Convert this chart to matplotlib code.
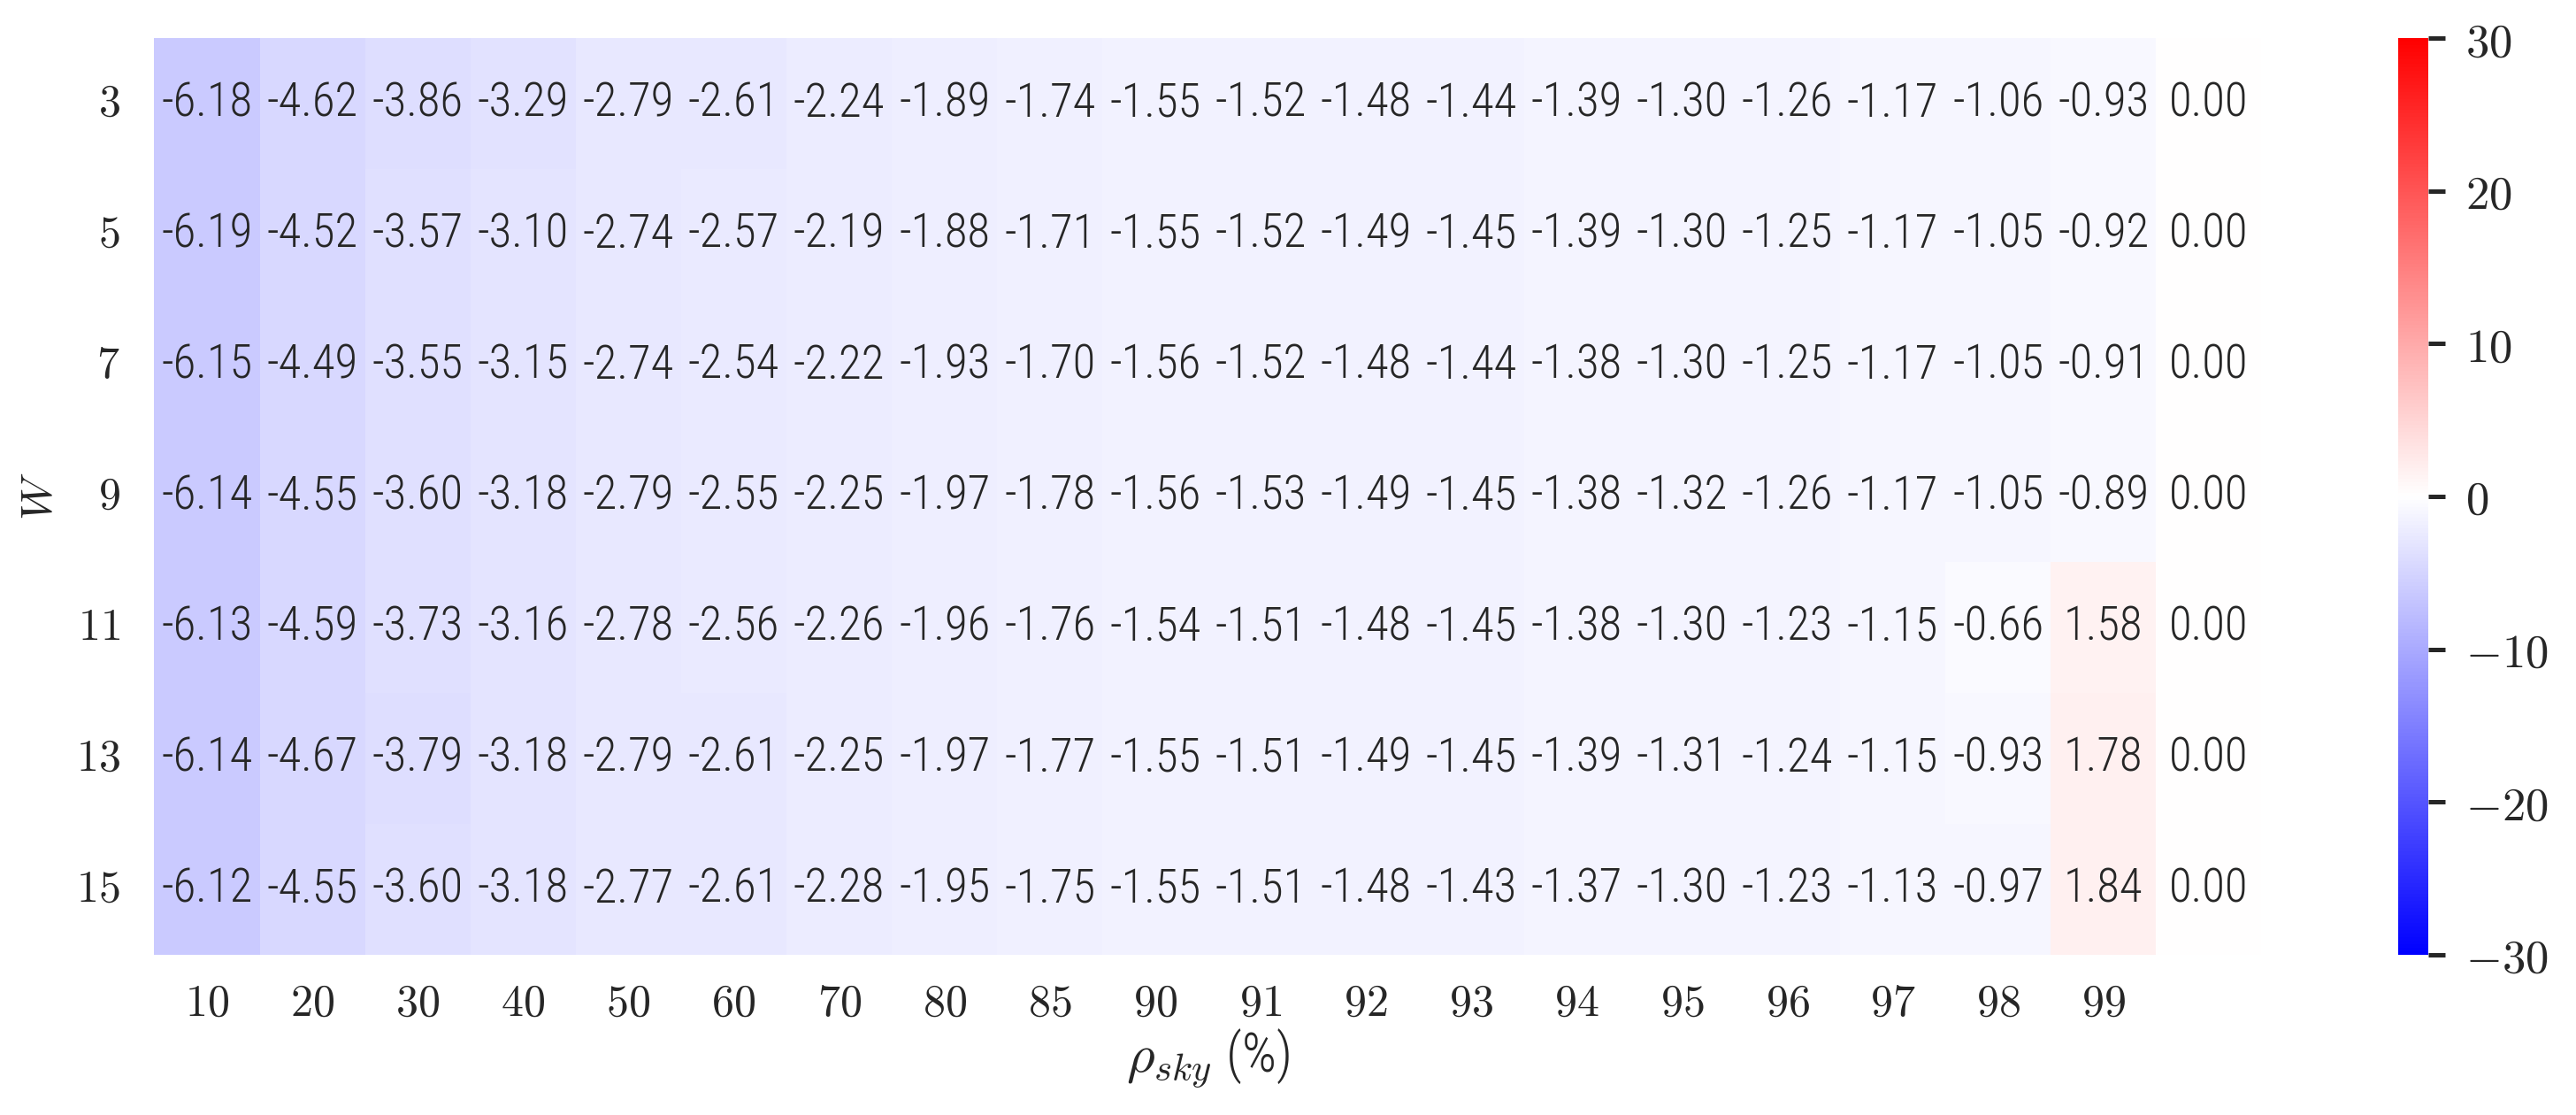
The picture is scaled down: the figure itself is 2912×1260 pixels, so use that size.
import numpy as np
import matplotlib
matplotlib.use("Agg")
import matplotlib.pyplot as plt
from matplotlib import font_manager as fm
import seaborn as sns

x_labels = ["10", "20", "30", "40", "50", "60", "70", "80", "85", "90", "91",
            "92", "93", "94", "95", "96", "97", "98", "99", ""]
y_labels = ["3", "5", "7", "9", "11", "13", "15"]
cbar_ticks = [-30, -20, -10, 0, 10, 20, 30]

row_w3 = [-6.18, -4.62, -3.86, -3.29, -2.79, -2.61, -2.24, -1.89, -1.74, -1.55, -1.52, -1.48, -1.44, -1.39, -1.30, -1.26, -1.17, -1.06, -0.93, 0.00]
row_w5 = [-6.19, -4.52, -3.57, -3.10, -2.74, -2.57, -2.19, -1.88, -1.71, -1.55, -1.52, -1.49, -1.45, -1.39, -1.30, -1.25, -1.17, -1.05, -0.92, 0.00]
row_w7 = [-6.15, -4.49, -3.55, -3.15, -2.74, -2.54, -2.22, -1.93, -1.70, -1.56, -1.52, -1.48, -1.44, -1.38, -1.30, -1.25, -1.17, -1.05, -0.91, 0.00]
row_w9 = [-6.14, -4.55, -3.60, -3.18, -2.79, -2.55, -2.25, -1.97, -1.78, -1.56, -1.53, -1.49, -1.45, -1.38, -1.32, -1.26, -1.17, -1.05, -0.89, 0.00]
row_w11 = [-6.13, -4.59, -3.73, -3.16, -2.78, -2.56, -2.26, -1.96, -1.76, -1.54, -1.51, -1.48, -1.45, -1.38, -1.30, -1.23, -1.15, -0.66, 1.58, 0.00]
row_w13 = [-6.14, -4.67, -3.79, -3.18, -2.79, -2.61, -2.25, -1.97, -1.77, -1.55, -1.51, -1.49, -1.45, -1.39, -1.31, -1.24, -1.15, -0.93, 1.78, 0.00]
row_w15 = [-6.12, -4.55, -3.60, -3.18, -2.77, -2.61, -2.28, -1.95, -1.75, -1.55, -1.51, -1.48, -1.43, -1.37, -1.30, -1.23, -1.13, -0.97, 1.84, 0.00]

data = np.array([row_w3, row_w5, row_w7, row_w9, row_w11, row_w13, row_w15])

sns.set_style("white")
plt.rcParams["mathtext.fontset"] = "cm"

# pick a narrow sans font for the annotations
installed = {f.name for f in fm.fontManager.ttflist}
annot_font = {"family": "DejaVu Sans", "stretch": "condensed", "weight": "normal"}
annot_size = 16.5
for name, size in [("Roboto Condensed", 19), ("Liberation Sans Narrow", 18.5),
                   ("Noto Sans Condensed", 17), ("Open Sans Condensed", 17)]:
    if name in installed:
        weights = {f.weight for f in fm.fontManager.ttflist if f.name == name}
        w = "light" if 300 in weights or "light" in weights else "normal"
        annot_font = {"family": name, "stretch": "normal", "weight": w}
        annot_size = size
        break

plt.rcParams["font.family"] = [annot_font["family"], "DejaVu Sans"]

fig = plt.figure(figsize=(14.56, 6.3), dpi=200)
ax = fig.add_axes([0.0599, 0.1437, 0.818, 0.822])
cax = fig.add_axes([0.931, 0.1437, 0.0117, 0.822])

sns.heatmap(data, ax=ax, cbar_ax=cax, cmap="bwr", vmin=-30, vmax=30,
            annot=True, fmt=".2f",
            annot_kws={"fontsize": annot_size, "color": "#262626",
                       "family": annot_font["family"],
                       "stretch": annot_font["stretch"],
                       "weight": annot_font["weight"]},
            cbar_kws={"ticks": cbar_ticks})

ax.set_xticks(np.arange(19) + 0.5)
ax.set_xticklabels(["$%s$" % s for s in x_labels[:19]], fontsize=18, rotation=0)
ax.set_yticks(np.arange(len(y_labels)) + 0.5)
ax.set_yticklabels(["$%s$" % s for s in y_labels], fontsize=18, rotation=0)
ax.tick_params(axis="x", length=0, pad=11, colors="#262626")
ax.tick_params(axis="y", length=0, pad=14, colors="#262626")
ax.set_xlabel(r"$\rho_{sky}$ (%)", fontsize=22, labelpad=1, color="#262626",
              weight=annot_font["weight"])
ax.set_ylabel(r"$W$", fontsize=18, labelpad=6, color="#262626")

cax.tick_params(length=7, width=1.8, color="#262626", labelsize=19, pad=8,
                labelcolor="#262626")
cax.set_yticklabels(["$%d$" % v for v in cbar_ticks])
for sp in cax.spines.values():
    sp.set_visible(False)

fig.savefig("out.png", dpi=200)
